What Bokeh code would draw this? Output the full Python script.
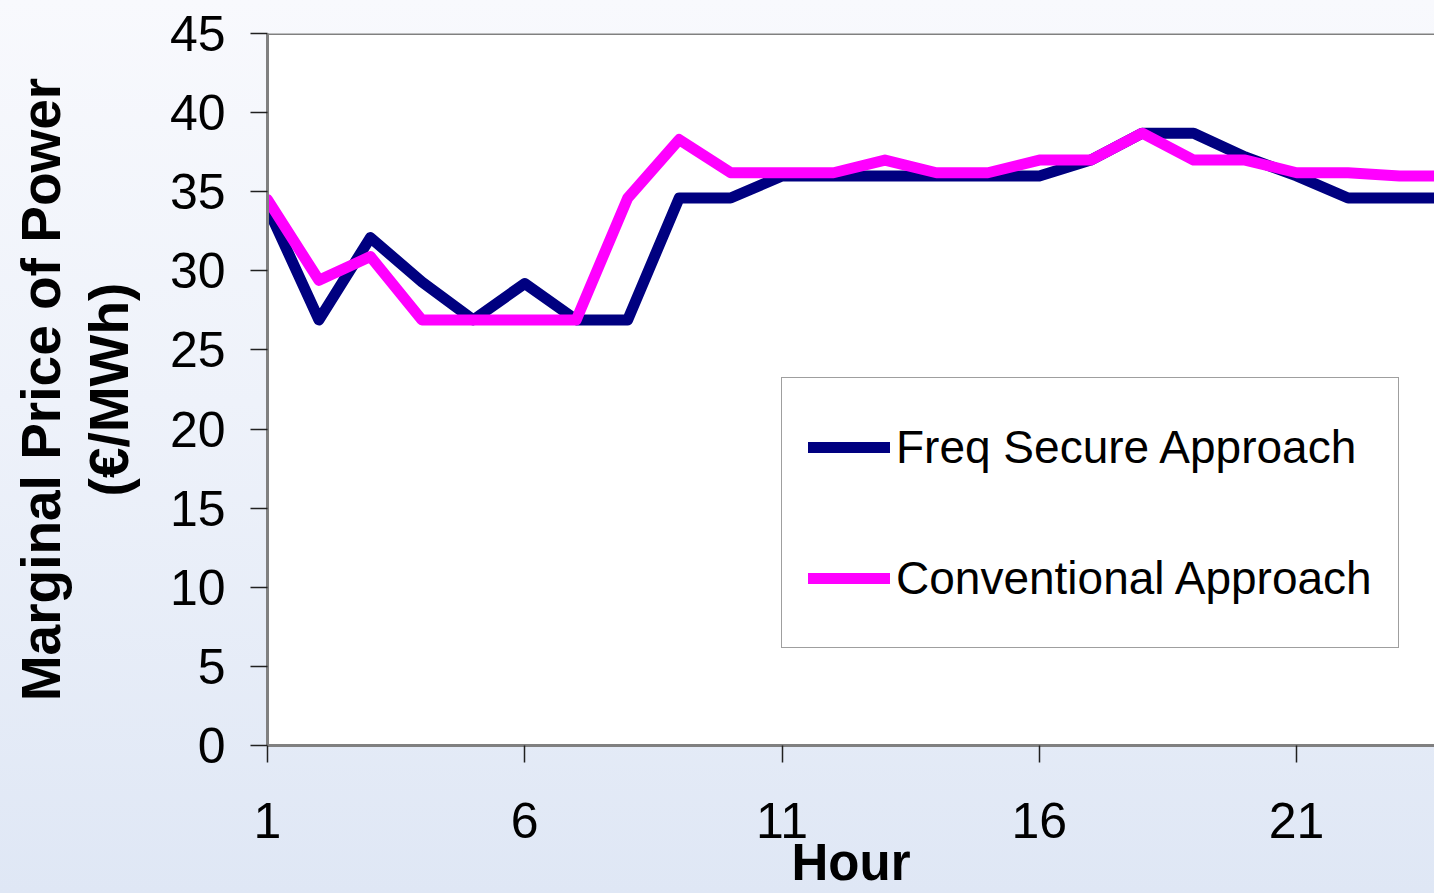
from bokeh.plotting import figure
from bokeh.models import (Legend, LegendItem, FixedTicker, Span, Range1d)
from bokeh.embed import file_html
from bokeh.resources import INLINE

# Hourly marginal price of power (EUR/MWh) for the two scheduling approaches
hours = list(range(1, 25))
freq_secure = [34.0, 26.9, 32.1, 29.3, 26.9, 29.2, 26.9, 26.9, 34.6, 34.6, 36.0, 36.0,
               36.0, 36.0, 36.0, 36.0, 37.0, 38.7, 38.7, 37.2, 36.0, 34.6, 34.6, 34.6]
conventional = [34.5, 29.4, 30.9, 26.9, 26.9, 26.9, 26.9, 34.6, 38.3, 36.2, 36.2, 36.2,
                37.0, 36.2, 36.2, 37.0, 37.0, 38.7, 37.0, 37.0, 36.2, 36.2, 36.0, 36.0]
series_names = ["Freq Secure Approach", "Conventional Approach"]
series_colors = ["#000080", "#FF00FF"]
hour_ticks = [1, 6, 11, 16, 21]
price_ticks = list(range(0, 50, 5))
x_title = "Hour"
y_title = "Marginal Price of Power\n(€/MWh)"

FONT = "Liberation Sans"

p = figure(width=1434, height=893, output_backend="svg", toolbar_location=None,
           x_range=Range1d(1, 23.68), y_range=Range1d(0, 45),
           min_border_left=267, min_border_top=33, min_border_bottom=148,
           min_border_right=0)

p.styles = {"background": "linear-gradient(180deg, #f8f9fd 0%, #eef2fa 45%, #dfe7f5 100%)"}
p.border_fill_color = None
p.background_fill_color = "white"
p.outline_line_color = None
p.xgrid.visible = False
p.ygrid.visible = False

# frame top edge
p.add_layout(Span(location=45, dimension="width", line_color="#808080", line_width=3))

r1 = p.line(hours, freq_secure, line_color=series_colors[0], line_width=11,
            line_join="round", line_cap="round")
r2 = p.line(hours, conventional, line_color=series_colors[1], line_width=11,
            line_join="round", line_cap="round")

# axes
for ax in (p.xaxis[0], p.yaxis[0]):
    ax.axis_line_color = "#808080"
    ax.axis_line_width = 3
    ax.major_tick_line_color = "#202020"
    ax.major_tick_line_width = 1.5
    ax.major_tick_out = 17
    ax.major_tick_in = 0
    ax.minor_tick_line_color = None
    ax.major_label_text_font = FONT
    ax.major_label_text_font_size = "50px"
    ax.major_label_text_color = "black"
    ax.axis_label_text_font = FONT
    ax.axis_label_text_font_style = "bold"
    ax.axis_label_text_color = "black"

p.xaxis.ticker = FixedTicker(ticks=hour_ticks)
p.xaxis.major_label_standoff = 40
p.xaxis.axis_label = x_title
p.xaxis.axis_label_text_font_size = "51px"
p.xaxis.axis_label_standoff = -7

p.yaxis.ticker = FixedTicker(ticks=price_ticks)
p.yaxis.major_label_standoff = 25
p.yaxis.axis_label = y_title
p.yaxis.axis_label_text_font_size = "55px"
p.yaxis.axis_label_text_line_height = 1.1
p.yaxis.axis_label_standoff = 27

legend = Legend(
    items=[LegendItem(label=series_names[0], renderers=[r1]),
           LegendItem(label=series_names[1], renderers=[r2])],
    location=(514, 97),
    orientation="vertical",
    border_line_color="#404040", border_line_width=1,
    background_fill_color="white", background_fill_alpha=1.0,
    padding=26, spacing=45, margin=0,
    glyph_width=82, glyph_height=86, label_height=86,
    label_standoff=6,
    label_text_font=FONT, label_text_font_size="46px", label_text_color="black",
)
p.add_layout(legend, "center")

open("out.html", "w").write(file_html(p, INLINE))
